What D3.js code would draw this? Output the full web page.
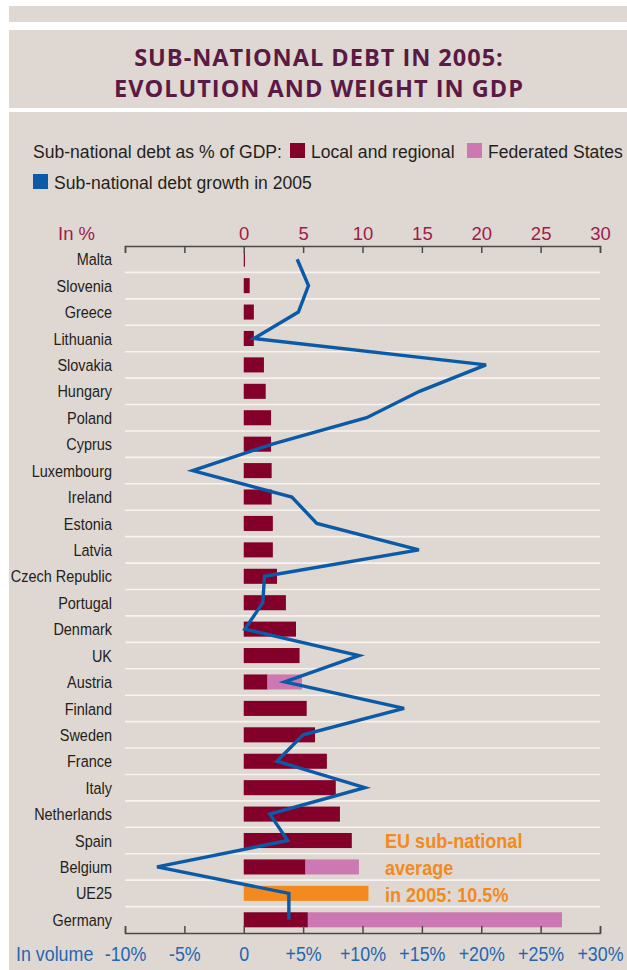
<!DOCTYPE html>
<html>
<head>
<meta charset="utf-8">
<script src="https://cdn.jsdelivr.net/npm/d3@7"></script>
<style>
  body { margin: 0; background: #fff; }
  svg text { font-family: "Liberation Sans", Arial, sans-serif; }
</style>
</head>
<body>
<svg id="chart"></svg>
<script>
// data
const countries = ["Malta", "Slovenia", "Greece", "Lithuania", "Slovakia", "Hungary", "Poland",
  "Cyprus", "Luxembourg", "Ireland", "Estonia", "Latvia", "Czech Republic", "Portugal",
  "Denmark", "UK", "Austria", "Finland", "Sweden", "France", "Italy", "Netherlands",
  "Spain", "Belgium", "UE25", "Germany"];
const localDebt = [0.1, 0.5, 0.85, 0.85, 1.7, 1.85, 2.3, 2.3, 2.35, 2.35, 2.45, 2.45, 2.8, 3.55,
  4.4, 4.7, 2.0, 5.3, 6.0, 7.0, 7.75, 8.1, 9.1, 5.2, 0, 5.4];
const federatedDebt = [0, 0, 0, 0, 0, 0, 0, 0, 0, 0, 0, 0, 0, 0,
  0, 0, 2.9, 0, 0, 0, 0, 0, 0, 4.5, 0, 21.4];
const euAverage = 10.5;
const debtGrowth = [4.5, 5.45, 4.6, 0.85, 20.4, 14.8, 10.35, 2.4, -4.3, 4.05, 6.15, 14.75, 1.75, 1.6,
  0.1, 9.7, 3.45, 13.5, 5.0, 2.8, 10.2, 2.2, 3.7, -7.3, 3.8, 3.8];
const topTicks = [0, 5, 10, 15, 20, 25, 30];
const bottomTicks = [-10, -5, 0, 5, 10, 15, 20, 25, 30];
const bottomTickLabels = ["-10%", "-5%", "0", "+5%", "+10%", "+15%", "+20%", "+25%", "+30%"];

const width = 627, height = 970;
const beige = "#dfd7d1";
const svg = d3.select("#chart").attr("width", width).attr("height", height);

// no condensed font available, so squeeze text horizontally
function squeeze(sel, k) {
  sel.each(function() {
    const t = d3.select(this);
    const tx = +t.attr("x") || 0, ty = +t.attr("y") || 0;
    t.attr("x", 0).attr("y", 0).attr("transform", `translate(${tx},${ty}) scale(${k},1)`);
  });
}

// background panels
svg.append("rect").attr("x", 9).attr("y", 6).attr("width", width - 9).attr("height", 16).attr("fill", beige);
svg.append("rect").attr("x", 9).attr("y", 30).attr("width", width - 9).attr("height", 78).attr("fill", beige);
svg.append("rect").attr("x", 9).attr("y", 112).attr("width", width - 9).attr("height", height - 112).attr("fill", beige);

// title
svg.append("g").selectAll("text")
  .data(["SUB-NATIONAL DEBT IN 2005:", "EVOLUTION AND WEIGHT IN GDP"])
  .enter().append("text")
    .attr("x", 319)
    .attr("y", (d, i) => 66 + i * 31)
    .attr("text-anchor", "middle")
    .style("font-family", "'Open Sans', sans-serif")
    .style("font-weight", 700)
    .style("font-size", "23.5px")
    .style("letter-spacing", "1px")
    .attr("fill", "#5b1946")
    .text(d => d);

// legend
const legend = svg.append("g").style("font-size", "18.5px").attr("fill", "#231f20");
legend.append("text").attr("x", 33).attr("y", 158).text("Sub-national debt as % of GDP:");
legend.append("rect").attr("x", 290).attr("y", 143).attr("width", 15).attr("height", 15).attr("fill", "#82002a");
legend.append("text").attr("x", 311).attr("y", 158).text("Local and regional");
legend.append("rect").attr("x", 467).attr("y", 143).attr("width", 15).attr("height", 15).attr("fill", "#cc78b2");
legend.append("text").attr("x", 488).attr("y", 158).text("Federated States");
legend.append("rect").attr("x", 33).attr("y", 174).attr("width", 15).attr("height", 15).attr("fill", "#0b5aa8");
legend.append("text").attr("x", 54).attr("y", 189).text("Sub-national debt growth in 2005");
legend.selectAll("text").call(squeeze, 0.95);

// scales
const x = d3.scaleLinear().domain([-10, 30]).range([125, 600]);
const y = d3.scaleBand().domain(countries).range([246, 933]).paddingInner(0.43).paddingOuter(0.215);
const step = y.step();

// row separators
svg.append("g").selectAll("line")
  .data(countries.slice(1))
  .enter().append("line")
    .attr("x1", x(-10)).attr("x2", x(30))
    .attr("y1", d => y(d) - y.paddingInner() * step / 2)
    .attr("y2", d => y(d) - y.paddingInner() * step / 2)
    .attr("stroke", "#f7f3f0")
    .attr("stroke-width", 1.6);

// bars
const rows = countries.map((c, i) => ({ c, local: localDebt[i], fed: federatedDebt[i] }));
svg.append("g").selectAll("rect")
  .data(rows.filter(d => d.c !== "UE25"))
  .enter().append("rect")
    .attr("x", x(0))
    .attr("y", d => y(d.c))
    .attr("width", d => x(d.local) - x(0))
    .attr("height", y.bandwidth())
    .attr("fill", "#82002a");
svg.append("g").selectAll("rect")
  .data(rows.filter(d => d.fed > 0))
  .enter().append("rect")
    .attr("x", d => x(d.local))
    .attr("y", d => y(d.c))
    .attr("width", d => x(d.local + d.fed) - x(d.local))
    .attr("height", y.bandwidth())
    .attr("fill", "#cc78b2");
svg.append("rect")
  .attr("x", x(0))
  .attr("y", y("UE25"))
  .attr("width", x(euAverage) - x(0))
  .attr("height", y.bandwidth())
  .attr("fill", "#f28a20");

// category labels
svg.append("g").selectAll("text")
  .data(countries)
  .enter().append("text")
    .attr("x", 112)
    .attr("y", d => y(d) + y.bandwidth() / 2)
    .attr("dy", "0.36em")
    .attr("text-anchor", "end")
    .style("font-size", "17px")
    .attr("fill", "#231f20")
    .text(d => d)
    .call(squeeze, 0.85);

// axes
const topAxis = svg.append("g")
  .attr("transform", "translate(0,246)")
  .call(d3.axisTop(x).tickValues(bottomTicks).tickSize(-7).tickPadding(6)
    .tickFormat(d => topTicks.includes(d) ? d : ""));
const bottomAxis = svg.append("g")
  .attr("transform", "translate(0,933)")
  .call(d3.axisBottom(x).tickValues(bottomTicks).tickSize(-7).tickPadding(13)
    .tickFormat((d, i) => bottomTickLabels[i]));
[topAxis, bottomAxis].forEach(a => {
  a.selectAll("path, line").attr("stroke", "#4a4a4a").attr("stroke-width", 1.5);
  a.selectAll("text").style("font-family", "'Liberation Sans', sans-serif");
});
topAxis.selectAll("text").attr("fill", "#9e1b4b").style("font-size", "18.5px");
bottomAxis.selectAll("text").attr("fill", "#2367b3").style("font-size", "21px")
  .attr("transform", "scale(0.85,1)");
svg.append("text").attr("x", 58).attr("y", 240).style("font-size", "18.5px").attr("fill", "#9e1b4b").text("In %");
svg.append("text").attr("x", 16).attr("y", 961).style("font-size", "21px").attr("fill", "#2367b3")
  .text("In volume").call(squeeze, 0.85);

// growth line
const line = d3.line()
  .x(d => x(d.g))
  .y(d => y(d.c) + y.bandwidth() / 2);
svg.append("path")
  .datum(countries.map((c, i) => ({ c, g: debtGrowth[i] })))
  .attr("d", line)
  .attr("fill", "none")
  .attr("stroke", "#0b5aa8")
  .attr("stroke-width", 3.4)
  .attr("stroke-linejoin", "miter");

// annotation
svg.append("g").selectAll("text")
  .data(["EU sub-national", "average", "in 2005: 10.5%"])
  .enter().append("text")
    .attr("x", 385)
    .attr("y", (d, i) => 848 + i * 27)
    .style("font-size", "21px")
    .style("font-weight", 700)
    .attr("fill", "#f28a20")
    .text(d => d)
    .call(squeeze, 0.86);
</script>
</body>
</html>
